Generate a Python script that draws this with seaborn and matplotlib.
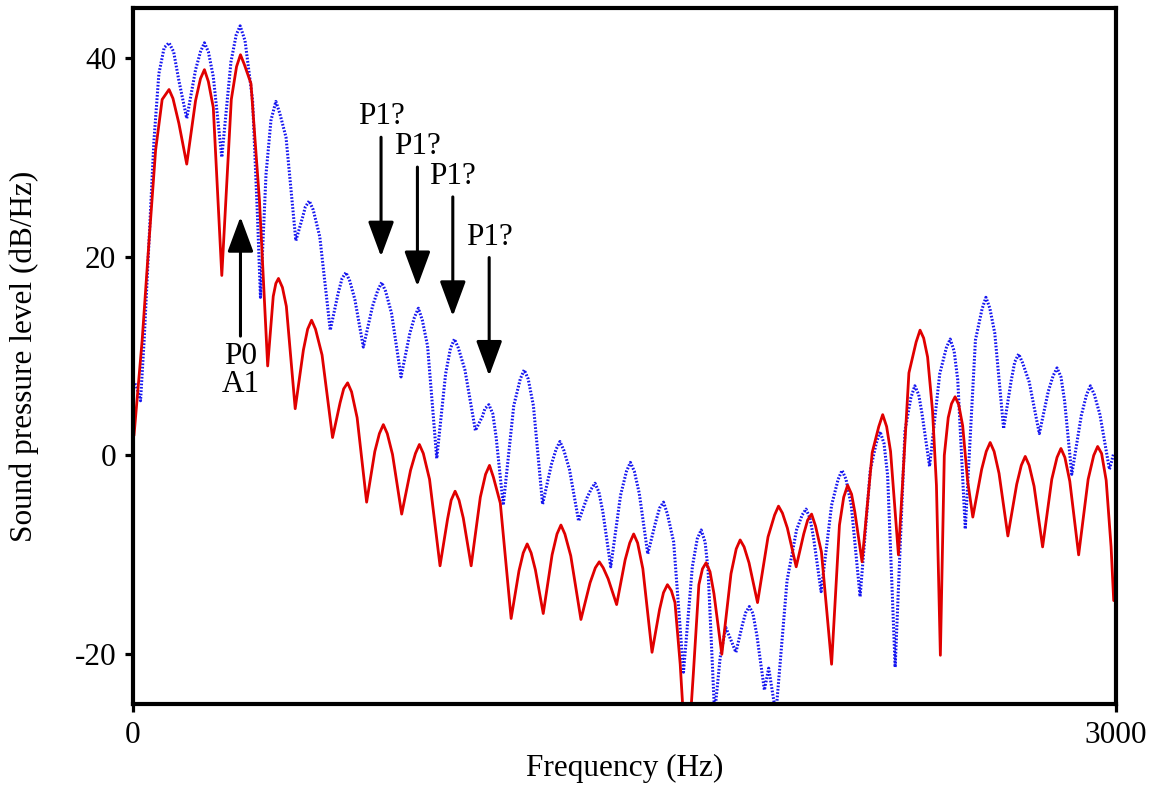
import matplotlib
matplotlib.use("Agg")
import matplotlib.pyplot as plt
import seaborn as sns
import pandas as pd

# ==============================
# DATA
# ==============================
# red spectrum: troughs, peaks and mid-slope points
red_freq = [3, 28, 49, 69, 89, 110, 140, 164, 191, 218,
            245, 271, 300, 328, 360, 386, 411, 428, 444, 468,
            495, 520, 545, 577, 609, 632, 655, 684, 713, 738,
            764, 792, 820, 847, 874, 905, 937, 960, 983, 1008,
            1032, 1060, 1088, 1121, 1154, 1178, 1203, 1228, 1252, 1279,
            1306, 1336, 1367, 1395, 1423, 1450, 1476, 1502, 1528, 1556,
            1584, 1607, 1631, 1654, 1670, 1690, 1710, 1727, 1749, 1773,
            1797, 1825, 1853, 1880, 1906, 1938, 1970, 1997, 2024, 2047,
            2071, 2101, 2132, 2156, 2181, 2203, 2225, 2256, 2288, 2312,
            2336, 2368, 2402, 2425, 2440, 2452, 2464, 2476, 2488, 2509,
            2532, 2547, 2563, 2590, 2616, 2643, 2670, 2697, 2723, 2750,
            2776, 2804, 2832, 2859, 2886, 2915, 2944, 2970, 2985, 2993]
red_db = [2.0, 11.6, 21.6, 30.7, 35.8, 36.8, 33.4, 29.3, 35.7, 38.8,
          35.0, 18.1, 35.8, 40.3, 37.4, 25.6, 9.0, 16.0, 17.8, 15.0,
          4.7, 10.6, 13.6, 10.1, 1.8, 5.3, 7.3, 3.8, -4.7, 0.4,
          3.1, 0.1, -5.9, -1.5, 1.1, -2.4, -11.1, -6.4, -3.6, -6.3,
          -11.1, -4.2, -1.0, -4.8, -16.4, -11.6, -8.9, -11.5, -15.9, -10.0,
          -7.0, -10.1, -16.5, -12.8, -10.7, -12.4, -15.0, -10.5, -7.9, -11.4,
          -19.8, -15.5, -13.0, -14.8, -21.0, -32.0, -22.0, -13.0, -10.8, -13.9,
          -20.0, -11.9, -8.5, -10.8, -14.8, -8.2, -5.1, -7.3, -11.2, -7.9,
          -5.9, -9.7, -21.0, -7.0, -3.0, -5.7, -10.7, 0.3, 4.1, 0.4,
          -10.0, 8.3, 12.6, 9.9, 4.5, -3.0, -20.1, 0.0, 3.8, 5.9,
          3.0, -2.5, -6.2, -1.4, 1.3, -1.8, -8.1, -2.9, -0.1, -3.1,
          -9.2, -2.4, 0.7, -2.6, -10.0, -2.4, 0.9, -2.5, -9.2, -14.6]
# red spectrum: points on the rounded tops of the harmonics
red_top_freq = [122, 206, 230, 316, 340, 436, 456, 533, 557, 643,
                667, 752, 776, 862, 886, 971, 995, 1076, 1100, 1191,
                1215, 1294, 1318, 1411, 1435, 1516, 1540, 1619, 1643, 1738,
                1761, 1841, 1865, 1958, 1982, 2059, 2083, 2169, 2193, 2276,
                2300, 2390, 2413, 2498, 2520, 2604, 2628, 2711, 2735, 2820,
                2844, 2932, 2956]
red_top_db = [35.9, 37.9, 37.6, 39.1, 39.3, 17.3, 16.9, 12.7, 12.7, 6.7,
              6.4, 2.2, 2.2, 0.2, 0.2, -4.5, -4.5, -1.9, -2.2, -9.8,
              -9.8, -7.9, -7.9, -11.3, -11.3, -8.8, -8.8, -13.8, -13.6, -11.4,
              -11.7, -9.4, -9.2, -6.0, -5.8, -6.5, -7.1, -4.2, -3.9, 2.9,
              2.9, 11.4, 11.8, 5.2, 5.1, 0.4, 0.4, -1.0, -1.0, -0.2,
              -0.2, 0.0, 0.2]

# blue spectrum: troughs, peaks and mid-slope points
blue_freq = [0, 10, 23, 34, 49, 64, 79, 95, 110, 140,
             164, 191, 218, 245, 271, 299, 327, 342, 365, 380, 389,
             406, 421, 436, 467, 497, 518, 538, 570, 602, 626,
             650, 677, 703, 731, 759, 789, 818, 845, 871, 899,
             927, 954, 981, 1013, 1045, 1066, 1086, 1108, 1130, 1162,
             1194, 1222, 1250, 1277, 1303, 1332, 1360, 1385, 1410, 1434,
             1458, 1488, 1518, 1545, 1571, 1595, 1619, 1650, 1680, 1707,
             1734, 1755, 1775, 1792, 1809, 1824, 1840, 1860, 1881, 1904,
             1927, 1940, 1962, 1996, 2025, 2054, 2077, 2100, 2132, 2164,
             2192, 2219, 2250, 2280, 2303, 2326, 2356, 2386, 2408, 2431,
             2462, 2494, 2517, 2540, 2571, 2603, 2630, 2657, 2680, 2703,
             2735, 2766, 2793, 2820, 2843, 2865, 2894, 2922, 2951, 2980,
             2993]
blue_db = [7.5, 7.0, 5.5, 11.6, 21.6, 31.7, 38.4, 41.0, 41.5, 37.7,
           33.9, 38.8, 41.5, 38.1, 30.0, 39.6, 43.2, 41.7, 35.7, 24.0, 15.9,
           28.3, 33.7, 35.6, 32.0, 21.6, 24.0, 25.6, 22.0, 12.6, 16.3,
           18.4, 15.7, 10.9, 15.0, 17.4, 14.3, 7.9, 12.3, 14.8, 11.0,
           -0.3, 8.2, 11.7, 8.6, 2.5, 3.9, 5.1, 1.9, -5.0, 5.0,
           8.6, 5.0, -4.9, -0.9, 1.4, -1.4, -6.6, -4.3, -2.8, -5.7,
           -11.2, -4.0, -0.7, -3.8, -9.9, -6.7, -4.7, -8.7, -21.8, -11.2,
           -7.5, -11.5, -26.0, -20.3, -17.3, -18.5, -19.8, -17.0, -15.2, -18.1,
           -23.6, -21.4, -26.0, -12.6, -7.5, -5.4, -8.3, -13.7, -5.0, -1.5,
           -5.0, -14.2, -1.5, 2.4, -2.0, -21.3, 2.5, 7.0, 4.2, -1.1,
           8.2, 11.7, 7.6, -7.4, 11.6, 15.9, 12.3, 2.7, 7.5, 10.2,
           7.4, 2.2, 6.4, 8.8, 5.5, -1.9, 4.0, 7.0, 4.1, -1.4,
           0.2]
# blue spectrum: points on the rounded tops of the harmonics
blue_top_freq = [124, 206, 230, 315, 448, 526, 550, 638, 662, 747,
                 771, 859, 883, 969, 993, 1074, 1098, 1182, 1206, 1291,
                 1315, 1398, 1422, 1506, 1530, 1607, 1631, 1722, 1746, 1870,
                 1892, 2042, 2066, 2152, 2176, 2268, 2292, 2374, 2398, 2482,
                 2506, 2591, 2615, 2691, 2715, 2808, 2832, 2910, 2934]
blue_top_db = [40.6, 40.6, 40.6, 42.3, 34.4, 25.0, 24.7, 17.8, 17.5, 16.6,
               16.5, 13.9, 13.6, 10.8, 10.8, 4.7, 4.2, 7.7, 7.7, 0.6,
               0.5, -3.4, -3.7, -1.6, -1.6, -5.3, -5.9, -8.4, -8.7, -15.8,
               -15.9, -6.0, -6.3, -2.4, -2.4, 1.2, 1.2, 5.8, 6.1, 10.8,
               10.5, 14.7, 14.8, 9.4, 9.3, 8.0, 7.9, 6.1, 6.1]

y_ticks = [-20, 0, 20, 40]
x_ticks = [0, 3000]

# ==============================
# STYLE
# ==============================
sns.set_style("white")
plt.rcParams["font.family"] = ["Liberation Serif", "DejaVu Serif"]
plt.rcParams["font.size"] = 22.5
plt.rcParams["axes.unicode_minus"] = False
for key in ["text.color", "axes.labelcolor", "xtick.color", "ytick.color"]:
    plt.rcParams[key] = "black"

red_df = pd.DataFrame({"Frequency": red_freq + red_top_freq,
                       "Level": red_db + red_top_db}).sort_values("Frequency")
blue_df = pd.DataFrame({"Frequency": blue_freq + blue_top_freq,
                        "Level": blue_db + blue_top_db}).sort_values("Frequency")

fig = plt.figure(figsize=(11.51, 7.88), dpi=100)
ax = fig.add_axes([133 / 1151, 84 / 788, 983 / 1151, 696 / 788])

sns.lineplot(data=blue_df, x="Frequency", y="Level", ax=ax, color="#1515f0",
             lw=2.2, linestyle=(0, (0.55, 0.55)), estimator=None, sort=False)
sns.lineplot(data=red_df, x="Frequency", y="Level", ax=ax, color="#e00000",
             lw=2.0, estimator=None, sort=False)

ax.set_xlim(0, 3000)
ax.set_ylim(-25, 45)
ax.set_xticks(x_ticks)
ax.set_yticks(y_ticks)
ax.set_xticklabels([str(v) for v in x_ticks])
ax.set_yticklabels([str(v) for v in y_ticks])

for side in ["left", "right", "top", "bottom"]:
    ax.spines[side].set_visible(True)
    ax.spines[side].set_color("black")
    ax.spines[side].set_linewidth(3.0)
ax.tick_params(axis="both", direction="out", length=6, width=2.3,
               color="black", labelcolor="black", labelsize=22.5, pad=6,
               bottom=True, left=True)

ax.set_xlabel("Frequency (Hz)", fontsize=22.5, color="black")
ax.set_ylabel("Sound pressure level (dB/Hz)", fontsize=22.5, color="black")
ax.xaxis.set_label_coords(0.5, -0.072)
ax.yaxis.set_label_coords(-0.096, 0.5)

# ==============================
# ANNOTATIONS
# ==============================
arrow_kw = dict(arrowstyle="-|>,head_length=1.08,head_width=0.4",
                color="black", lw=2.2, mutation_scale=20,
                shrinkA=0, shrinkB=0)

ax.annotate("", xy=(328, 24.0), xytext=(328, 12.0), arrowprops=arrow_kw)
ax.text(328, 11.4, "P0\nA1", ha="center", va="top", linespacing=0.95,
        fontsize=22.5, color="black")

p1_spots = [(757, 20.0, 32.0), (868, 17.0, 29.0), (976, 14.0, 26.0), (1087, 8.0, 19.9)]
for f, tip, tail in p1_spots:
    ax.annotate("", xy=(f, tip), xytext=(f, tail), arrowprops=arrow_kw)
    ax.text(f, tail + 0.6, "P1?", ha="center", va="bottom", fontsize=22.5,
            color="black")

fig.savefig("out.png", dpi=100)
plt.close(fig)
